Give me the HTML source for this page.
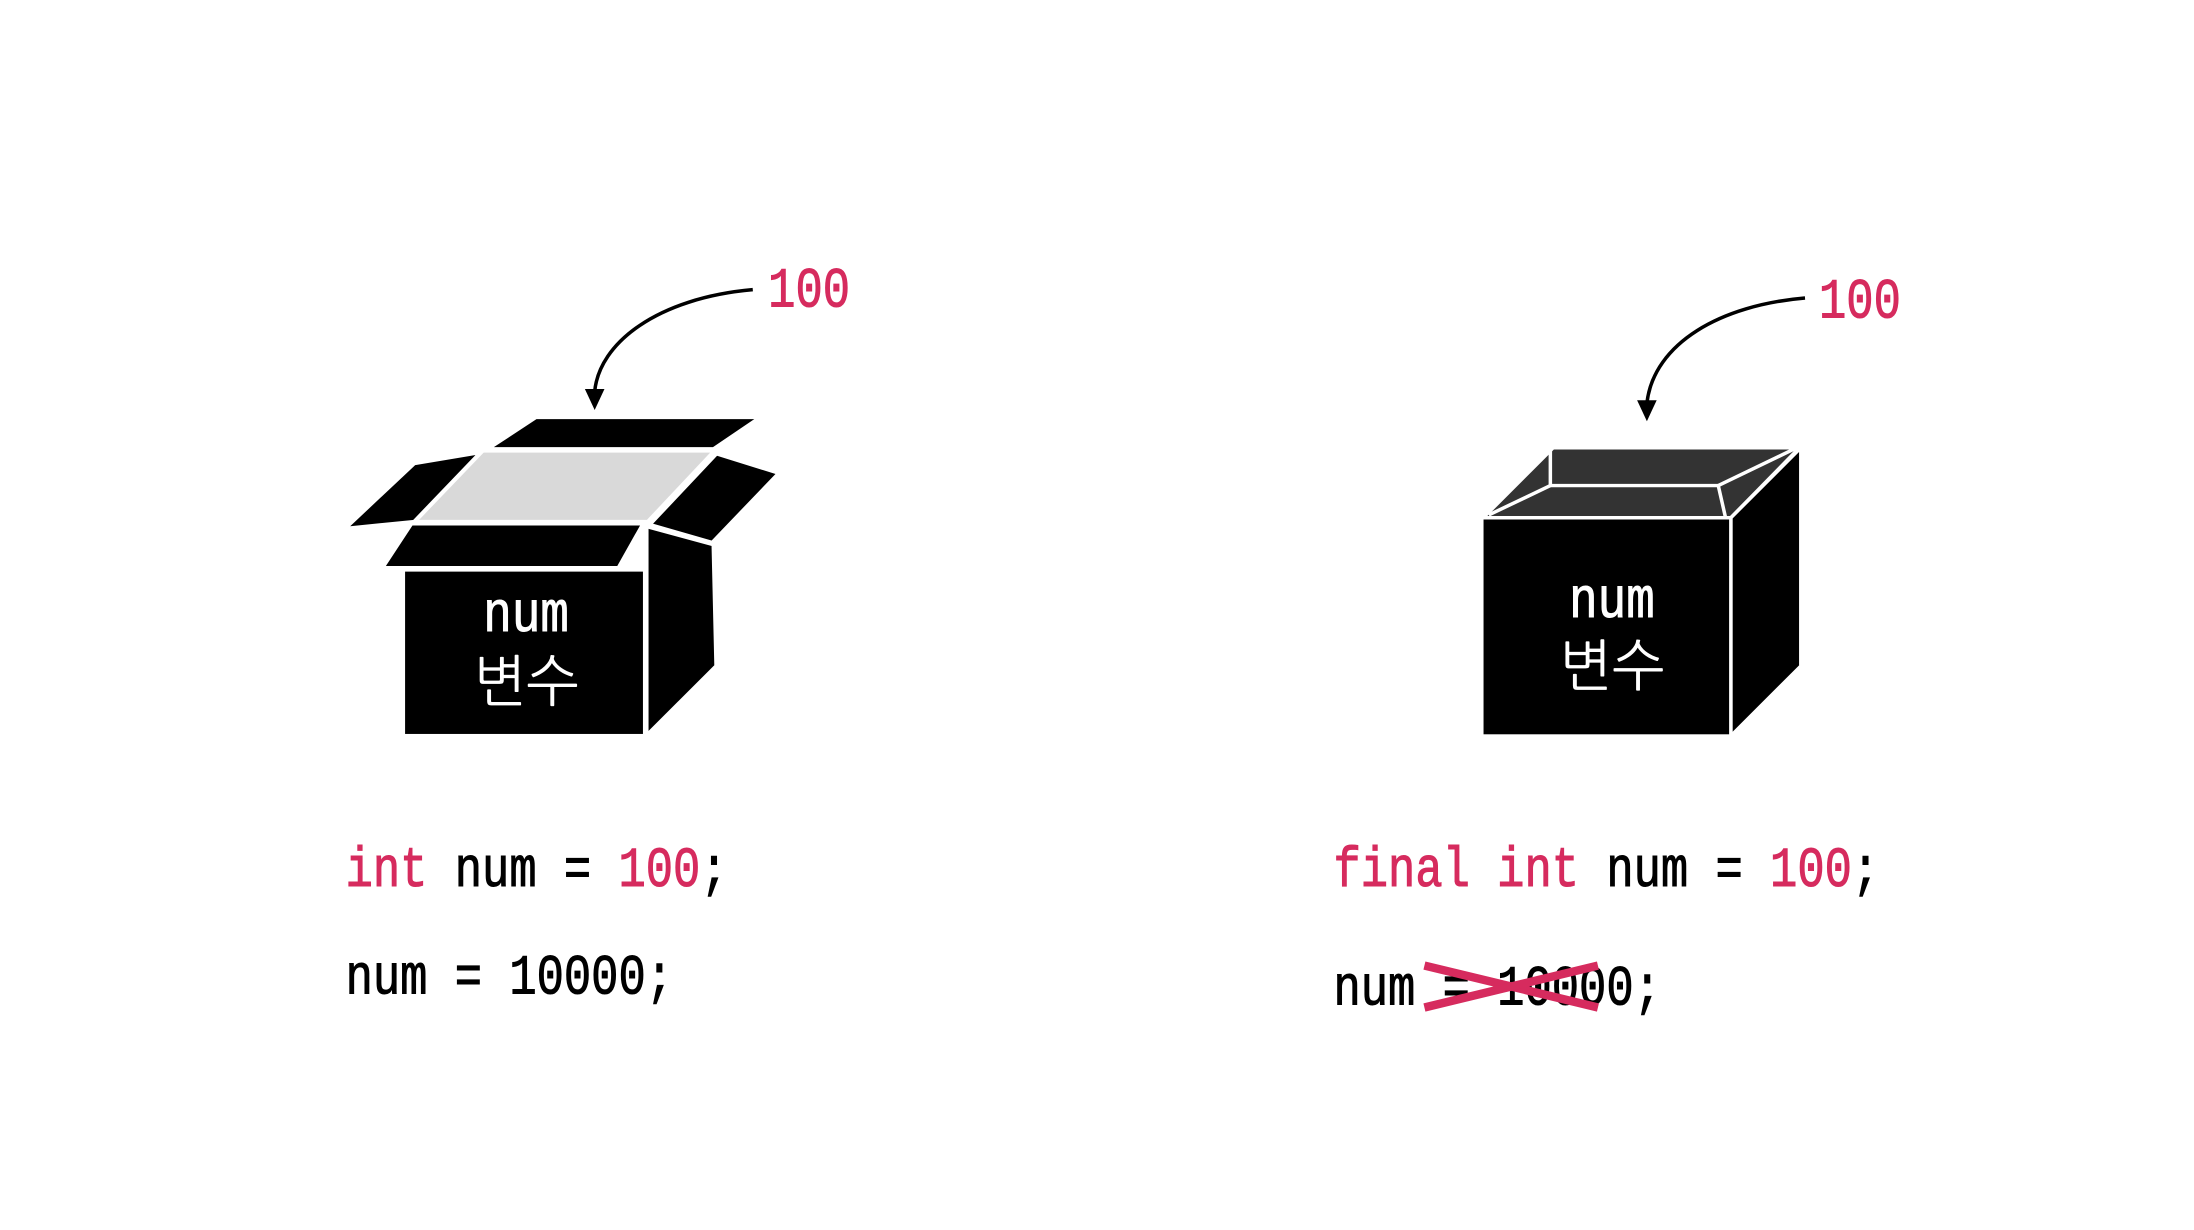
<!DOCTYPE html>
<html><head><meta charset="utf-8"><style>
html,body{margin:0;padding:0;background:#fff;width:2194px;height:1230px;overflow:hidden}
svg{display:block}
text{font-family:"Liberation Mono","NanumGothic","Noto Sans CJK KR",monospace}
.k{fill:#d62b5e}
</style></head><body>
<svg width="2194" height="1230" viewBox="0 0 1568 879" preserveAspectRatio="none" xmlns="http://www.w3.org/2000/svg">
<!-- Left -->
<text transform="translate(549,219) scale(1,1.25)" font-size="32.5" class="k" stroke="#d62b5e" stroke-width="0.6">100</text>
<path d="M538,207 C470,213 428,245 425,280" fill="none" stroke="#000" stroke-width="2.5"/>
<polygon points="418,278 432,278 425,293" fill="#000"/>
<g stroke="#fff" stroke-width="3" stroke-linejoin="miter">
<polygon points="348,321 383,298 544,298 510,321" fill="#000"/>
<polygon points="343,322 511,322 463,373 296,373" fill="#d9d9d9"/>
<polygon points="296,331 344,323 296,373 246,378" fill="#000"/>
<polygon points="512,324 557,338 509,388 464,375" fill="#000"/>
<polygon points="462,376 510,389 512,476 462,526" fill="#000"/>
<polygon points="294,374 460,374 442,406 273,406" fill="#000"/>
<rect x="288" y="407" width="173" height="119" fill="#000"/>
</g>
<text transform="translate(376,451) scale(1,1.2)" font-size="34" fill="#fff" stroke="#fff" stroke-width="0.6" text-anchor="middle">num</text>
<text x="376" y="501" font-size="40" fill="#fff" text-anchor="middle" style="font-family:'NanumGothic','Noto Sans CJK KR',sans-serif">변수</text>
<!-- Right -->
<text transform="translate(1300,227) scale(1,1.25)" font-size="32.5" class="k" stroke="#d62b5e" stroke-width="0.6">100</text>
<path d="M1290,213 C1230,218 1182,245 1177,288" fill="none" stroke="#000" stroke-width="2.5"/>
<polygon points="1170,286 1184,286 1177,301" fill="#000"/>
<g stroke="#fff" stroke-width="2.5">
<polygon points="1060,370 1110,320 1286,320 1237,370" fill="#333"/>
<polyline points="1108,320 1108,347 1228,347 1233,369" fill="none"/>
<line x1="1228" y1="347" x2="1284" y2="320"/>
<line x1="1108" y1="347" x2="1064" y2="368"/>
<polygon points="1237,370 1287,320 1287,476 1237,526" fill="#000"/>
<rect x="1059" y="370" width="178" height="156" fill="#000"/>
</g>
<text transform="translate(1152,441) scale(1,1.2)" font-size="34" fill="#fff" stroke="#fff" stroke-width="0.6" text-anchor="middle">num</text>
<text x="1152" y="490" font-size="40" fill="#fff" text-anchor="middle" style="font-family:'NanumGothic','Noto Sans CJK KR',sans-serif">변수</text>
<!-- code -->
<g stroke-width="0.6">
<text transform="translate(247,633) scale(1,1.25)" font-size="32.5" stroke="#000"><tspan class="k" stroke="#d62b5e">int</tspan> num = <tspan class="k" stroke="#d62b5e">100</tspan>;</text>
<text transform="translate(247,710) scale(1,1.25)" font-size="32.5" stroke="#000">num = 10000;</text>
<text transform="translate(953,633) scale(1,1.25)" font-size="32.5" stroke="#000"><tspan class="k" stroke="#d62b5e">final int</tspan> num = <tspan class="k" stroke="#d62b5e">100</tspan>;</text>
<text transform="translate(953,718) scale(1,1.25)" font-size="32.5" stroke="#000">num = 10000;</text>
</g>
<g stroke="#d62b5e" stroke-width="6">
<line x1="1018" y1="690" x2="1142" y2="720"/>
<line x1="1018" y1="720" x2="1142" y2="690"/>
</g>
</svg>
</body></html>
